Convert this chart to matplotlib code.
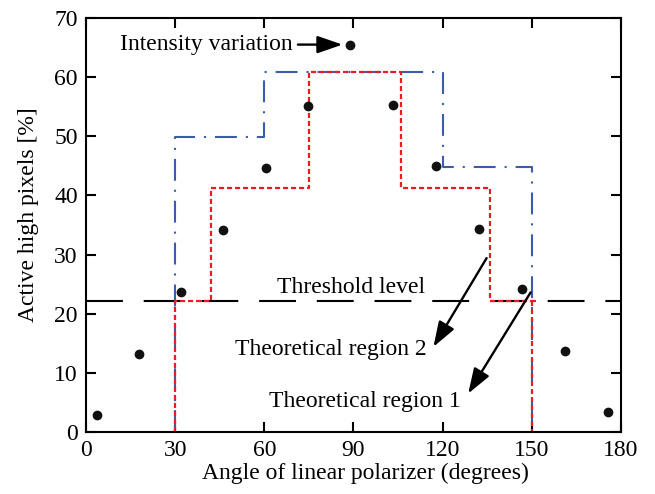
import numpy as np
import matplotlib
matplotlib.use("Agg")
import matplotlib.pyplot as plt

# Measured fraction of active pixels vs polarizer angle
angle_meas = [3.6, 17.9, 32.0, 46.2, 60.5, 74.8, 88.9, 103.4, 117.9, 132.3, 146.6, 161.2, 175.7]
active_meas = [2.8, 13.2, 23.7, 34.2, 44.7, 55.2, 65.5, 55.3, 44.9, 34.4, 24.1, 13.7, 3.3]

# Theoretical region 1 (step outline)
region1_x = [30, 30, 60, 60, 120, 120, 150, 150]
region1_y = [0, 49.8, 49.8, 60.8, 60.8, 44.8, 44.8, 0]

# Theoretical region 2 (step outline)
region2_x = [30, 30, 42, 42, 75, 75, 106, 106, 136, 136, 151, 150, 150]
region2_y = [0, 22.2, 22.2, 41.2, 41.2, 60.8, 60.8, 41.2, 41.2, 22.2, 22.2, 22.2, 0]

threshold = 22.2

plt.rcParams['font.family'] = ['Liberation Serif', 'DejaVu Serif']
plt.rcParams['font.size'] = 17

fig = plt.figure(figsize=(6.55, 4.94), dpi=100)
ax = fig.add_axes([0.1313, 0.1255, 0.8167, 0.8381])

# Threshold level
ax.plot([0, 180], [threshold, threshold], color="black", linewidth=1.5,
        dashes=(17.7, 10))

ax.plot(region1_x, region1_y, color="#3b5bab", linewidth=1.5,
        dashes=(10.5, 4.3, 1, 4.3))
ax.plot(region2_x, region2_y, color="#ec1c24", linewidth=1.6,
        dashes=(2.3, 1.3))

ax.plot(angle_meas, active_meas, "o", color="#111111", markersize=6)

arrow = dict(arrowstyle="-|>,head_length=1.1,head_width=0.38",
             color="black", lw=1.7, shrinkA=0, shrinkB=0, mutation_scale=14)

ax.text(69.6, 65.5, "Intensity variation", ha="right", va="center")
ax.annotate("", xy=(86.3, 65.5), xytext=(71.3, 65.5), arrowprops=arrow)

ax.text(89.1, 23.5, "Threshold level", ha="center", va="baseline")

ax.text(82.3, 13.0, "Theoretical region 2", ha="center", va="baseline")
ax.annotate("", xy=(116.9, 14.4), xytext=(134.8, 29.4), arrowprops=arrow)

ax.text(93.9, 4.3, "Theoretical region 1", ha="center", va="baseline")
ax.annotate("", xy=(128.6, 6.5), xytext=(149.6, 23.6), arrowprops=arrow)

ax.set_xlim(0, 180)
ax.set_ylim(0, 70)
ax.set_xticks(np.arange(0, 181, 30))
ax.set_yticks(np.arange(0, 71, 10))
ax.tick_params(direction="in", length=7, width=1.5, top=True, right=True, pad=6)
for s in ax.spines.values():
    s.set_linewidth(1.5)

ax.set_xlabel("Angle of linear polarizer (degrees)", labelpad=1)
ax.set_ylabel("Active high pixels [%]", labelpad=11)
ax.xaxis.label.set_x(0.523)
ax.yaxis.label.set_y(0.524)

fig.savefig("out.png", dpi=100)
